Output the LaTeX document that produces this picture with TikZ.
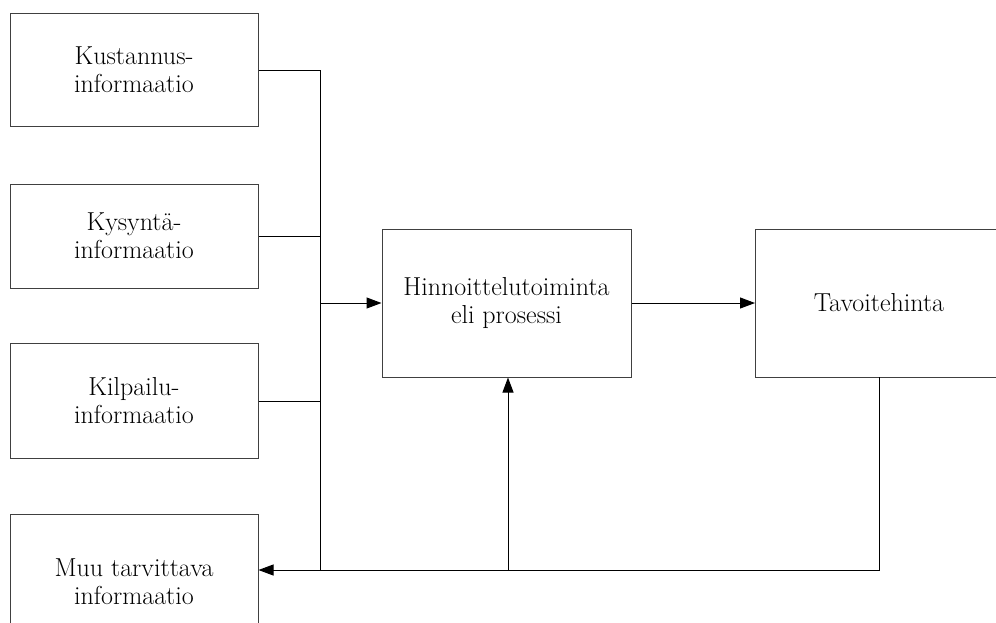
\documentclass[tikz,border=0pt]{standalone}
\usetikzlibrary{arrows.meta}
\begin{document}
\begin{tikzpicture}[x=1pt,y=-1pt,
  box/.style={draw=black!75,line width=1pt,align=center,font=\fontsize{26}{28}\selectfont,inner sep=0pt},
  conn/.style={draw=black,line width=1pt},
  arr/.style={conn,-{Triangle[length=15pt,width=11pt]}}]
\useasboundingbox (0,0) rectangle (996,622);
\begin{scope}
\clip (0,0) rectangle (996,622);
\node[box,minimum width=248pt,minimum height=113pt] (k1) at (134,70) {Kustannus-\\informaatio};
\node[box,minimum width=248pt,minimum height=104pt] (k2) at (134,236) {Kysyntä-\\informaatio};
\node[box,minimum width=248pt,minimum height=115pt] (k3) at (134,400.5) {Kilpailu-\\informaatio};
\node[box,minimum width=248pt,minimum height=136pt] (k4) at (134,582) {Muu tarvittava\\informaatio};
\node[box,minimum width=249pt,minimum height=148pt] (h) at (506.5,303) {Hinnoittelutoiminta\\eli prosessi};
\node[box,minimum width=260pt,minimum height=148pt,anchor=west] (t) at (755,303) {};
\node[font=\fontsize{26}{28}\selectfont] (tl) at (879,303) {Tavoitehinta};
\end{scope}
\coordinate (b1) at (320,70);
\coordinate (b2) at (320,236);
\coordinate (b3) at (320,401);
\coordinate (b4) at (320,570);
\coordinate (bm) at (320,303);
\coordinate (f1) at (879,377);
\coordinate (f2) at (879,570);
\coordinate (f3) at (508,570);
\draw[conn] (k1.east |- b1) -- (b1) -- (b4);
\draw[conn] (k2.east |- b2) -- (b2);
\draw[conn] (k3.east |- b3) -- (b3);
\draw[arr] (bm) -- (h.west |- bm);
\draw[arr] (h.east) -- (t.west);
\draw[arr] (f1) -- (f2) -- (k4.east |- f2);
\draw[arr] (f3) -- (h.south -| f3);
\end{tikzpicture}
\end{document}
